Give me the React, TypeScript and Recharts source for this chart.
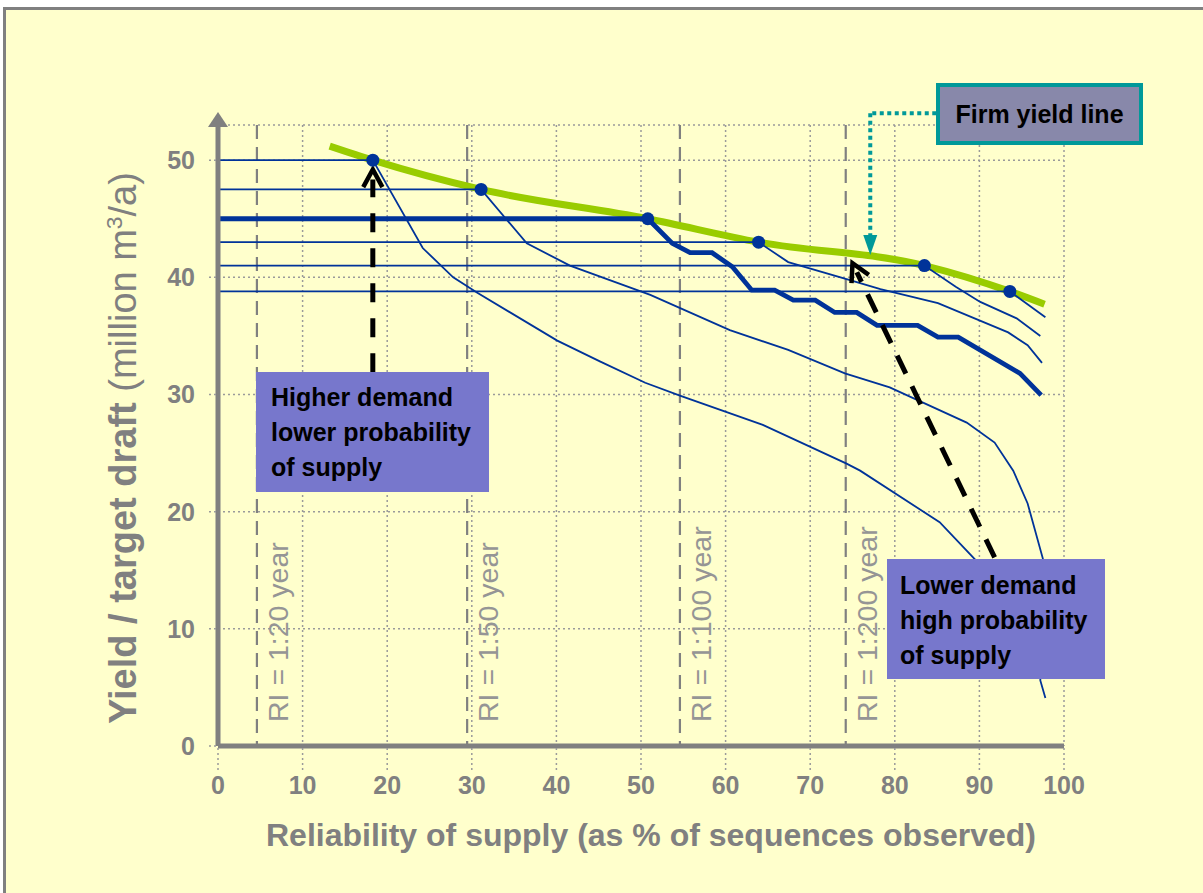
import React from 'react';
import { ComposedChart, Line, XAxis, YAxis, CartesianGrid, ReferenceLine } from 'recharts';

const FONT = "'Liberation Sans', Arial, sans-serif";
const GRAY = '#808080';
const NAVY = '#003399';
const GREEN = '#99CC00';
const TEAL = '#009999';

const xTicks = [0, 10, 20, 30, 40, 50, 60, 70, 80, 90, 100];
const yTicks = [0, 10, 20, 30, 40, 50];

// Each target-draft curve: flat at the draft up to its firm-yield reliability, then declining
const draft50 = [
  { x: 0, y: 50 }, { x: 18.3, y: 50 }, { x: 24.2, y: 42.5 }, { x: 27.8, y: 40.0 }, { x: 30.6, y: 38.7 },
  { x: 40.1, y: 34.6 }, { x: 45.2, y: 32.8 }, { x: 50.5, y: 31.0 }, { x: 54.6, y: 29.9 }, { x: 64.4, y: 27.4 },
  { x: 74.3, y: 24.1 }, { x: 75.9, y: 23.5 }, { x: 85.3, y: 19.1 }, { x: 89.5, y: 15.9 }, { x: 93.5, y: 12.0 },
  { x: 96.5, y: 7.5 },
];
const draft47 = [
  { x: 0, y: 47.5 }, { x: 31.1, y: 47.5 }, { x: 36.5, y: 42.9 }, { x: 41.6, y: 41.0 }, { x: 51.1, y: 38.5 },
  { x: 60.5, y: 35.5 }, { x: 67.4, y: 33.8 }, { x: 74.1, y: 31.8 }, { x: 79.4, y: 30.6 }, { x: 88.5, y: 27.6 },
  { x: 91.8, y: 25.9 }, { x: 94.0, y: 23.5 }, { x: 95.7, y: 20.7 }, { x: 97.5, y: 16.0 }, { x: 97.2, y: 5.6 },
  { x: 97.8, y: 4.1 },
];
const draft45 = [
  { x: 0, y: 45 }, { x: 50.8, y: 45 }, { x: 53.7, y: 42.9 }, { x: 55.8, y: 42.1 }, { x: 58.4, y: 42.1 },
  { x: 60.8, y: 40.9 }, { x: 63.1, y: 38.9 }, { x: 65.8, y: 38.9 }, { x: 68.0, y: 38.05 }, { x: 70.6, y: 38.05 },
  { x: 72.9, y: 37.0 }, { x: 75.5, y: 37.0 }, { x: 77.9, y: 35.9 }, { x: 82.7, y: 35.9 }, { x: 85.1, y: 34.9 },
  { x: 87.5, y: 34.9 }, { x: 94.8, y: 31.8 }, { x: 97.3, y: 29.95 },
];
const draft43 = [
  { x: 0, y: 43 }, { x: 63.9, y: 43 }, { x: 67.4, y: 41.3 }, { x: 74.5, y: 39.8 }, { x: 78.3, y: 39.0 },
  { x: 85.1, y: 37.8 }, { x: 93.4, y: 35.3 }, { x: 95.7, y: 34.2 }, { x: 97.4, y: 32.7 },
];
const draft41 = [
  { x: 0, y: 41 }, { x: 83.5, y: 41 }, { x: 87.2, y: 39.2 }, { x: 90.1, y: 37.9 }, { x: 94.4, y: 36.5 },
  { x: 97.2, y: 35.0 },
];
const draft39 = [
  { x: 0, y: 38.8 }, { x: 93.6, y: 38.8 }, { x: 97.8, y: 36.6 },
];

const firmYieldLine = [
  { x: 13.2, y: 51.2 }, { x: 18.3, y: 50 }, { x: 31.1, y: 47.5 }, { x: 50.8, y: 45 }, { x: 63.9, y: 43 },
  { x: 83.5, y: 41 }, { x: 93.6, y: 38.8 }, { x: 97.7, y: 37.7 },
];
const firmYieldPoints = [
  { x: 18.3, y: 50 }, { x: 31.1, y: 47.5 }, { x: 50.8, y: 45 }, { x: 63.9, y: 43 }, { x: 83.5, y: 41 },
  { x: 93.6, y: 38.8 },
];

const riPositions = [4.6, 29.45, 54.6, 74.2];
const riLabels = ['RI = 1:20 year', 'RI = 1:50 year', 'RI = 1:100 year', 'RI = 1:200 year'];

// annotation arrows (data coordinates)
const higherDemandArrow = [{ x: 18.3, y: 31.9 }, { x: 18.3, y: 49.2 }];
const lowerDemandArrow = [{ x: 91.8, y: 16.1 }, { x: 75.0, y: 41.2 }];
const firmLeaderH = [{ x: 84.9, y: 54.0 }, { x: 77.1, y: 54.0 }];
const firmLeaderV = [{ x: 77.1, y: 54.0 }, { x: 77.1, y: 41.9 }];
const yAxisHead = [{ x: 0, y: 53 }, { x: 0, y: 54.1 }];

const riShape = (label: string) => (p: any) => {
  const bottom = Math.max(p.y1, p.y2);
  const top = Math.min(p.y1, p.y2);
  return (
    <g>
      <line x1={p.x1} y1={top} x2={p.x1} y2={bottom} stroke={GRAY} strokeWidth={2.2} strokeDasharray="14 8" />
      <text
        transform={`translate(${p.x1 + 31},${bottom - 24}) rotate(-90)`}
        fill="#959595"
        fontSize={28.5}
        fontFamily={FONT}
        textAnchor="start"
      >
        {label}
      </text>
    </g>
  );
};

const dashedArrow = (dash: string) => (p: any) => {
  const { x1, y1, x2, y2 } = p;
  const ang = Math.atan2(y2 - y1, x2 - x1);
  const len = 20;
  const spread = 0.5;
  const ax = x2 - len * Math.cos(ang - spread);
  const ay = y2 - len * Math.sin(ang - spread);
  const bx = x2 - len * Math.cos(ang + spread);
  const by = y2 - len * Math.sin(ang + spread);
  const sx = x2 - 10 * Math.cos(ang);
  const sy = y2 - 10 * Math.sin(ang);
  return (
    <g>
      <line x1={x1} y1={y1} x2={sx} y2={sy} stroke="#000" strokeWidth={5} strokeDasharray={dash} />
      <polyline points={`${ax},${ay} ${x2},${y2} ${bx},${by}`} fill="none" stroke="#000" strokeWidth={4.5} />
    </g>
  );
};

const tealLine = (p: any) => (
  <line x1={p.x1} y1={p.y1} x2={p.x2} y2={p.y2} stroke={TEAL} strokeWidth={4} strokeDasharray="4 3.5" />
);

const tealArrow = (p: any) => {
  const { x1, y1, x2, y2 } = p;
  return (
    <g>
      <line x1={x1} y1={y1} x2={x2} y2={y2 - 16} stroke={TEAL} strokeWidth={4} strokeDasharray="4 3.5" />
      <polygon points={`${x2 - 7},${y2 - 20} ${x2 + 7},${y2 - 20} ${x2},${y2}`} fill={TEAL} />
    </g>
  );
};

const axisHead = (p: any) => {
  const { x1, y1, x2, y2 } = p;
  const base = Math.max(y1, y2);
  const tip = Math.min(y1, y2);
  return <polygon points={`${x1 - 10},${base + 2} ${x1 + 10},${base + 2} ${x2},${tip}`} fill={GRAY} />;
};

const tickStyle = { fill: GRAY, fontSize: 25, fontWeight: 700, fontFamily: FONT };

const boxText: React.CSSProperties = {
  position: 'absolute',
  fontFamily: FONT,
  fontWeight: 700,
  fontSize: 25,
  lineHeight: '35px',
  color: '#000',
  boxSizing: 'border-box',
  whiteSpace: 'nowrap',
};

export default function App() {
  const thin = { stroke: NAVY, strokeWidth: 1.8, dot: false, activeDot: false, isAnimationActive: false, type: 'linear' as const };
  return (
    <div style={{ position: 'absolute', left: 0, top: 0, width: 1203, height: 893, background: '#fff', overflow: 'hidden' }}>
      <div
        style={{
          position: 'absolute',
          left: 3,
          top: 7,
          width: 1210,
          height: 900,
          background: '#FFFFCC',
          borderTop: '3px solid #808080',
          borderLeft: '3px solid #808080',
          boxSizing: 'border-box',
        }}
      />
      <div style={{ position: 'absolute', left: 0, top: 0 }}>
        <ComposedChart width={1203} height={893} margin={{ top: 125, right: 139, bottom: 0, left: 0 }}>
          <CartesianGrid stroke="#9a9a9a" strokeWidth={1.5} strokeDasharray="2 3" />
          <XAxis
            dataKey="x"
            type="number"
            domain={[0, 100]}
            ticks={xTicks}
            interval={0}
            allowDataOverflow
            height={147}
            axisLine={{ stroke: GRAY, strokeWidth: 5 }}
            tickLine={{ stroke: '#9a9a9a', strokeWidth: 1.5, strokeDasharray: '2 3' }}
            tickSize={24}
            tickMargin={6}
            tick={tickStyle}
          />
          <YAxis
            type="number"
            domain={[0, 53]}
            ticks={yTicks}
            interval={0}
            allowDataOverflow
            width={218}
            axisLine={{ stroke: GRAY, strokeWidth: 5 }}
            tickLine={{ stroke: '#9a9a9a', strokeWidth: 1.5, strokeDasharray: '2 3' }}
            tickSize={9}
            tickMargin={14}
            tick={tickStyle}
          />
          {riPositions.map((x, i) => (
            <ReferenceLine key={'ri' + i} x={x} ifOverflow="visible" shape={riShape(riLabels[i])} />
          ))}
          <ReferenceLine segment={yAxisHead} ifOverflow="visible" shape={axisHead} />
          <Line data={firmYieldLine} dataKey="y" type="monotone" stroke={GREEN} strokeWidth={7} dot={false} activeDot={false} isAnimationActive={false} />
          <Line data={draft50} dataKey="y" {...thin} />
          <Line data={draft47} dataKey="y" {...thin} />
          <Line data={draft43} dataKey="y" {...thin} />
          <Line data={draft41} dataKey="y" {...thin} />
          <Line data={draft39} dataKey="y" {...thin} />
          <Line data={draft45} dataKey="y" {...thin} strokeWidth={4.8} />
          <Line
            data={firmYieldPoints}
            dataKey="y"
            stroke="none"
            dot={{ r: 6.5, fill: NAVY, stroke: 'none' }}
            activeDot={false}
            isAnimationActive={false}
          />
          <ReferenceLine segment={higherDemandArrow} ifOverflow="visible" shape={dashedArrow('19 16')} />
          <ReferenceLine segment={lowerDemandArrow} ifOverflow="visible" shape={dashedArrow('20 14')} />
          <ReferenceLine segment={firmLeaderH} ifOverflow="visible" shape={tealLine} />
          <ReferenceLine segment={firmLeaderV} ifOverflow="visible" shape={tealArrow} />
        </ComposedChart>
      </div>

      {/* y-axis title */}
      <div
        style={{
          position: 'absolute',
          left: 123,
          top: 448,
          transform: 'translate(-50%, -50%) rotate(-90deg)',
          whiteSpace: 'nowrap',
          fontFamily: FONT,
          fontSize: 38,
          color: GRAY,
          lineHeight: '42px',
        }}
      >
        <span style={{ fontWeight: 700 }}>Yield / target draft</span>{' '}
        <span style={{ fontWeight: 400 }}>
          (million m<sup style={{ fontSize: '0.6em', lineHeight: 0 }}>3</sup>/a)
        </span>
      </div>

      {/* x-axis title */}
      <div
        style={{
          position: 'absolute',
          left: 651,
          top: 815,
          transform: 'translateX(-50%)',
          whiteSpace: 'nowrap',
          fontFamily: FONT,
          fontSize: 32,
          fontWeight: 700,
          color: GRAY,
          lineHeight: '40px',
        }}
      >
        Reliability of supply (as % of sequences observed)
      </div>

      {/* annotation boxes */}
      <div style={{ ...boxText, left: 256, top: 372, width: 233, height: 120, background: '#7777CC', paddingLeft: 15, paddingTop: 8 }}>
        Higher demand
        <br />
        lower probability
        <br />
        of supply
      </div>
      <div style={{ ...boxText, left: 887, top: 559, width: 218, height: 120, background: '#7777CC', paddingLeft: 13, paddingTop: 9 }}>
        Lower demand
        <br />
        high probability
        <br />
        of supply
      </div>
      <div
        style={{
          ...boxText,
          left: 936,
          top: 83,
          width: 207,
          height: 62,
          background: '#8888AA',
          border: `4px solid ${TEAL}`,
          lineHeight: '54px',
          textAlign: 'center',
        }}
      >
        Firm yield line
      </div>
    </div>
  );
}
